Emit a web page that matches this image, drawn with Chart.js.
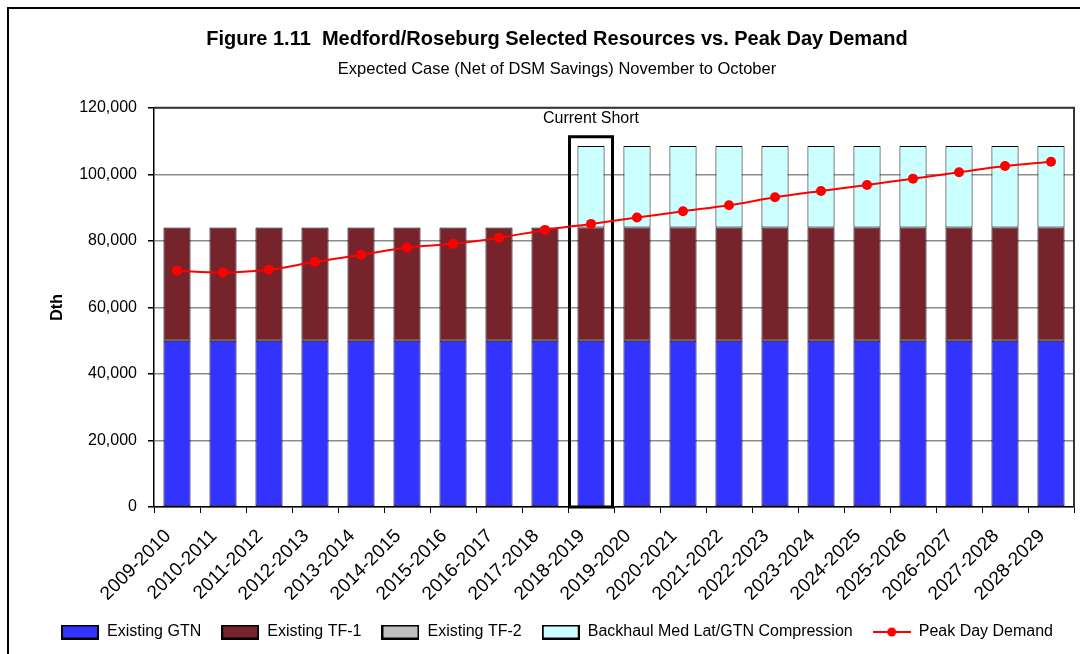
<!DOCTYPE html>
<html>
<head>
<meta charset="utf-8">
<script src="https://cdn.jsdelivr.net/npm/chart.js@4.4.1/dist/chart.umd.min.js"></script>
<style>
  html, body { margin: 0; padding: 0; background: #fff; }
  #wrap { width: 1080px; height: 654px; position: relative; }
</style>
</head>
<body>
<div id="wrap"><canvas id="c" width="1080" height="654"></canvas></div>
<script>
const categories = ['2009-2010','2010-2011','2011-2012','2012-2013','2013-2014','2014-2015','2015-2016','2016-2017','2017-2018','2018-2019','2019-2020','2020-2021','2021-2022','2022-2023','2023-2024','2024-2025','2025-2026','2026-2027','2027-2028','2028-2029'];
const existingGTN = [50000,50000,50000,50000,50000,50000,50000,50000,50000,50000,50000,50000,50000,50000,50000,50000,50000,50000,50000,50000];
const existingTF1 = [34000,34000,34000,34000,34000,34000,34000,34000,34000,34000,34000,34000,34000,34000,34000,34000,34000,34000,34000,34000];
const existingTF2 = [0,0,0,0,0,0,0,0,0,0,0,0,0,0,0,0,0,0,0,0];
const backhaulMedLat = [0,0,0,0,0,0,0,0,0,24500,24500,24500,24500,24500,24500,24500,24500,24500,24500,24500];
const peakDayDemand = [71000,70500,71300,73700,75800,78000,79100,80900,83300,85100,87000,88900,90700,93100,95000,96800,98700,100600,102500,103800];
const yTicks = [0,20000,40000,60000,80000,100000,120000];
const shortCategory = '2018-2019';
const shortLabel = 'Current Short';
const shortTop = 111300;

const FONT = "'Liberation Sans', Arial, sans-serif";

function boxIcon(fill) {
  const c = document.createElement('canvas');
  c.width = 38; c.height = 15;
  const g = c.getContext('2d');
  g.fillStyle = fill; g.fillRect(1, 1, 36, 13);
  g.strokeStyle = '#000'; g.lineWidth = 2; g.strokeRect(1, 1, 36, 13);
  return c;
}
function lineIcon(color) {
  const c = document.createElement('canvas');
  c.width = 38; c.height = 12;
  const g = c.getContext('2d');
  g.strokeStyle = color; g.lineWidth = 2;
  g.beginPath(); g.moveTo(0, 6); g.lineTo(38, 6); g.stroke();
  g.fillStyle = color; g.beginPath(); g.arc(19, 6, 4.5, 0, Math.PI * 2); g.fill();
  return c;
}

const frame = {
  id: 'frame',
  beforeDraw(chart) {
    const ctx = chart.ctx;
    ctx.save();
    ctx.fillStyle = '#fff';
    ctx.fillRect(0, 0, chart.width, chart.height);
    ctx.strokeStyle = '#000';
    ctx.lineWidth = 2;
    ctx.beginPath();
    ctx.moveTo(8, chart.height + 5);
    ctx.lineTo(8, 8);
    ctx.lineTo(chart.width + 5, 8);
    ctx.stroke();
    ctx.restore();
  },
  beforeDatasetsDraw(chart) {
    const ctx = chart.ctx, x = chart.scales.x, y = chart.scales.y;
    const idx = categories.indexOf(shortCategory);
    const cx = x.getPixelForValue(idx);
    const top = y.getPixelForValue(shortTop);
    ctx.save();
    ctx.strokeStyle = '#000';
    ctx.lineWidth = 3;
    ctx.strokeRect(cx - 21.5, top, 43, y.bottom - top);
    ctx.fillStyle = '#000';
    ctx.font = '16px ' + FONT;
    ctx.textAlign = 'center';
    ctx.textBaseline = 'bottom';
    ctx.fillText(shortLabel, cx, top - 10);
    ctx.restore();
  },
  afterDraw(chart) {
    const ctx = chart.ctx, a = chart.chartArea;
    ctx.save();
    ctx.strokeStyle = '#333';
    ctx.lineWidth = 2;
    ctx.beginPath();
    ctx.moveTo(a.left, a.top);
    ctx.lineTo(a.right, a.top);
    ctx.lineTo(a.right, a.bottom);
    ctx.stroke();
    ctx.restore();
  }
};

const barCommon = { borderColor: '#000', borderWidth: 1, borderSkipped: false, barPercentage: 0.59, categoryPercentage: 1.0, stack: 'res', order: 2 };

new Chart(document.getElementById('c'), {
  type: 'bar',
  data: {
    labels: categories,
    datasets: [
      Object.assign({ label: 'Existing GTN', data: existingGTN, backgroundColor: '#3333FF', icon: boxIcon('#3333FF') }, barCommon),
      Object.assign({ label: 'Existing TF-1', data: existingTF1, backgroundColor: '#77232B', icon: boxIcon('#77232B') }, barCommon),
      Object.assign({}, barCommon, { label: 'Existing TF-2', data: existingTF2, backgroundColor: '#C0C0C0', borderWidth: 0, icon: boxIcon('#C0C0C0') }),
      Object.assign({ label: 'Backhaul Med Lat/GTN Compression', data: backhaulMedLat, backgroundColor: '#CCFFFF', icon: boxIcon('#CCFFFF') }, barCommon),
      { type: 'line', label: 'Peak Day Demand', data: peakDayDemand, stack: 'demand', order: 1,
        borderColor: '#FF0000', backgroundColor: '#FF0000', borderWidth: 2, tension: 0.3,
        pointRadius: 5, pointHoverRadius: 5, pointBackgroundColor: '#FF0000', pointBorderWidth: 0, icon: lineIcon('#FF0000') }
    ]
  },
  options: {
    responsive: false,
    animation: false,
    devicePixelRatio: 1,
    layout: { padding: { left: 40, right: 6, top: 0, bottom: 4 } },
    plugins: {
      title: { display: true, text: 'Figure 1.11  Medford/Roseburg Selected Resources vs. Peak Day Demand',
        color: '#000', font: { family: FONT, size: 20, weight: 'bold' }, padding: { top: 27, bottom: 9 } },
      subtitle: { display: true, text: 'Expected Case (Net of DSM Savings) November to October',
        color: '#000', font: { family: FONT, size: 16.5 }, padding: { top: 0, bottom: 28 } },
      legend: { position: 'bottom', labels: {
        usePointStyle: true, pointStyleWidth: 38, boxHeight: 16, padding: 20, color: '#000',
        font: { family: FONT, size: 16 },
        generateLabels(chart) {
          return chart.data.datasets.map((d, i) => ({ text: d.label, pointStyle: d.icon, datasetIndex: i, fontColor: '#000', lineWidth: 0, hidden: false }));
        } } },
      tooltip: { enabled: false }
    },
    scales: {
      x: {
        stacked: true,
        offset: true,
        grid: { display: true, drawOnChartArea: false, drawTicks: true, tickLength: 6, color: '#000', offset: true },
        border: { color: '#000', width: 1.5 },
        ticks: { color: '#000', font: { family: FONT, size: 19 }, minRotation: 45, maxRotation: 45, autoSkip: false, padding: 12, labelOffset: -9 },
        afterFit(s) { s.height = 97; }
      },
      y: {
        stacked: true,
        min: 0, max: 120000,
        afterBuildTicks(s) { s.ticks = yTicks.map(v => ({ value: v })); },
        grid: { color: '#8c8c8c', lineWidth: 1.5, tickColor: '#000', tickLength: 6 },
        border: { color: '#000', width: 1.5 },
        ticks: { color: '#000', font: { family: FONT, size: 16 }, padding: 11,
          callback: v => v.toLocaleString('en-US') },
        title: { display: true, text: 'Dth', color: '#000', font: { family: FONT, size: 16, weight: 'bold' }, padding: { top: 8, bottom: 0 } },
        afterFit(s) { s.width = 114; }
      }
    }
  },
  plugins: [frame]
});
</script>
</body>
</html>
